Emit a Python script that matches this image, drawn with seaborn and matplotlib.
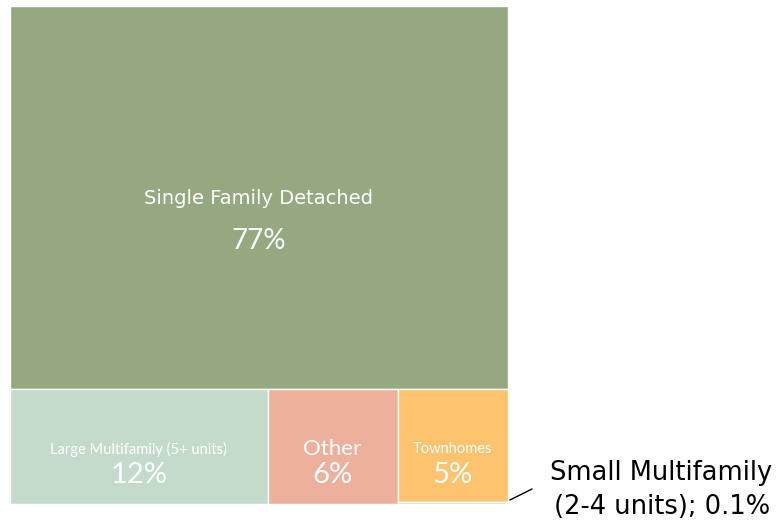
import matplotlib
matplotlib.use("Agg")
import matplotlib.pyplot as plt
import seaborn as sns
from matplotlib.patches import Rectangle

# ---- data ----
categories = ["Single Family Detached", "Large Multifamily (5+ units)", "Other",
              "Townhomes", "Small Multifamily (2-4 units)"]
values = [77.0, 11.9, 6.0, 5.0, 0.1]
pct_labels = ["77%", "12%", "6%", "5%", "0.1%"]
colors = ["#95A87F", "#C4DBCB", "#EDB09C", "#FEC36F", "#C4DBCB"]

sns.set_theme(style="white")
plt.rcParams['font.family'] = ['Lato', 'DejaVu Sans']

W, H = 783, 525
fig = plt.figure(figsize=(W / 100, H / 100), dpi=100)
ax = fig.add_axes([0, 0, 1, 1])
ax.set_xlim(0, W)
ax.set_ylim(H, 0)
ax.axis("off")

# treemap bounding box
x0, y0, bw, bh = 10, 6, 498, 498
total = sum(values)

rects = []
# first item: full-width block on top
h0 = bh * values[0] / total
rects.append((x0, y0, bw, h0))
# bottom row: columns Large, Other, [Townhomes + Small stacked]
rest_h = bh - h0
rest_total = total - values[0]
cols = [[1], [2], [3, 4]]
cx = x0
for col in cols:
    cv = sum(values[i] for i in col)
    cw = bw * cv / rest_total
    cy = y0 + h0
    for i in col:
        ch = rest_h * values[i] / cv
        rects.append((cx, cy, cw, ch))
        cy += ch
    cx += cw

for (rx, ry, rw, rh), c in zip(rects, colors):
    ax.add_patch(Rectangle((rx, ry), rw, rh, facecolor=c, edgecolor="white", linewidth=1))

def center(r):
    rx, ry, rw, rh = r
    return rx + rw / 2, ry + rh / 2

wide = ['DejaVu Sans']

# labels
cxs, cys = center(rects[0])
ax.text(cxs, cys + 1, categories[0], color="white", fontsize=14, ha="center", va="center", family=wide)
ax.text(cxs, cys + 43, pct_labels[0], color="white", fontsize=20, ha="center", va="center")

name_sizes = [None, 10.5, 16, 10.5]
for i in (1, 2, 3):
    cx_, cy_ = center(rects[i])
    rx, ry, rw, rh = rects[i]
    ax.text(cx_, ry + 60, categories[i], color="white", fontsize=name_sizes[i], ha="center", va="center")
    ax.text(cx_, ry + 86, pct_labels[i], color="white", fontsize=21, ha="center", va="center")

# annotation for the tiny category
rx, ry, rw, rh = rects[4]
ax.plot([rx + rw + 2, rx + rw + 24], [ry + rh - 4, ry + rh - 15], color="black", lw=1)
ax.text(661, 473, "Small Multifamily", color="black", fontsize=18.5, ha="center", va="center", family=wide)
ax.text(662, 507, "(2-4 units); " + pct_labels[4], color="black", fontsize=18.5, ha="center", va="center", family=wide)

fig.savefig("out.png", dpi=100, facecolor="white")
